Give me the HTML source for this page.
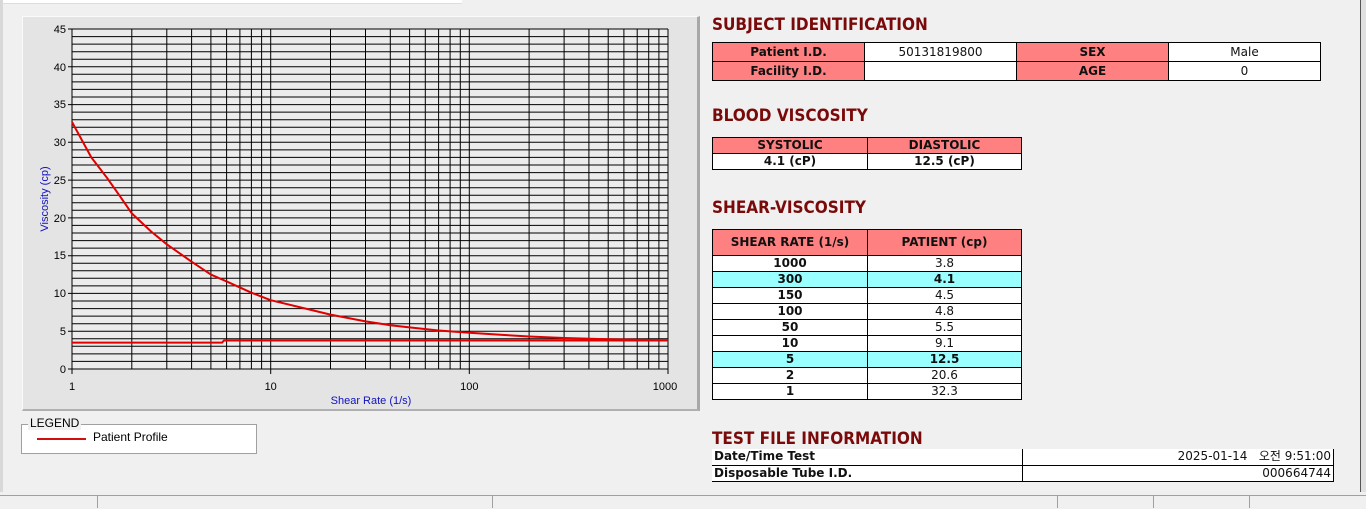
<!DOCTYPE html>
<html><head><meta charset="utf-8"><style>
body{margin:0;width:1366px;height:508px;background:#f0f0f0;position:relative;overflow:hidden;font-family:"Liberation Sans","Noto Sans CJK KR",sans-serif}
.abs{position:absolute}
.t{position:absolute;left:712px;font:bold 17px "DejaVu Sans Condensed","Liberation Sans",sans-serif;color:#7a0a0a}
table{position:absolute;border-collapse:collapse;font:bold 12px "DejaVu Sans","Liberation Sans",sans-serif;color:#111}
td{border:1px solid #000;padding:0;text-align:center;height:15px;line-height:13px;overflow:hidden}
tr{height:16px}
.h{background:#ff8080}
.w{background:#fff}
.c{background:#99ffff}
.n{font-weight:normal}
</style></head><body>
<div class="abs" style="left:0;top:0;width:462px;height:3px;background:#fff;border-bottom:1px solid #ddd"></div>
<div class="abs" style="left:0;top:0;width:3px;height:492px;background:#d8d8d8"></div>
<div class="abs" style="left:22px;top:16px;width:674px;height:392px;background:#e4e4e4;border-right:3px solid #a8a8a8;border-bottom:2px solid #b0b0b0;border-top:1px solid #fafafa;border-left:1px solid #fafafa"></div>
<svg class="abs" style="left:0;top:0" width="700" height="410">
<rect x="72" y="29" width="596" height="340" fill="#ececec"/>
<path stroke="#000" stroke-width="1" fill="none" d="M72 29H668M72 36.6H668M72 44.1H668M72 51.7H668M72 59.2H668M72 66.8H668M72 74.3H668M72 81.9H668M72 89.4H668M72 97H668M72 104.6H668M72 112.1H668M72 119.7H668M72 127.2H668M72 134.8H668M72 142.3H668M72 149.9H668M72 157.4H668M72 165H668M72 172.6H668M72 180.1H668M72 187.7H668M72 195.2H668M72 202.8H668M72 210.3H668M72 217.9H668M72 225.4H668M72 233H668M72 240.6H668M72 248.1H668M72 255.7H668M72 263.2H668M72 270.8H668M72 278.3H668M72 285.9H668M72 293.4H668M72 301H668M72 308.6H668M72 316.1H668M72 323.7H668M72 331.2H668M72 338.8H668M72 346.3H668M72 353.9H668M72 361.4H668M72 369H668
M72 29V369M131.8 29V369M166.8 29V369M191.6 29V369M210.9 29V369M226.6 29V369M239.9 29V369M251.4 29V369M261.6 29V369M270.7 29V369M330.5 29V369M365.5 29V369M390.3 29V369M409.6 29V369M425.3 29V369M438.6 29V369M450.1 29V369M460.3 29V369M469.3 29V369M529.1 29V369M564.1 29V369M588.9 29V369M608.2 29V369M623.9 29V369M637.2 29V369M648.7 29V369M658.9 29V369M668 29V369
M68 29H72M68 66.8H72M68 104.6H72M68 142.3H72M68 180.1H72M68 217.9H72M68 255.7H72M68 293.4H72M68 331.2H72M68 369H72M72 369V374M270.7 369V374M469.3 369V374M668 369V374"/>
<polyline fill="none" stroke="#e00000" stroke-width="2" stroke-linejoin="round" points="72,122 91.3,157.4 107,177.8 120.3,196.7 131.8,213.4 151.1,231.5 166.8,244.3 191.6,261.7 210.9,274.6 226.6,281.4 251.4,292.7 270.7,300.2 305.7,308.6 330.5,314.6 365.5,321.4 390.3,325.2 409.5,327.4 438.6,330.5 469.3,332.7 504.3,335 529.2,336.5 564.1,338 608.2,339.2 668,340.3"/>
<polyline fill="none" stroke="#e00000" stroke-width="2" points="72,342.6 222,342.6 224,340.5 668,340.5"/>
<g font-family="Liberation Sans,sans-serif" font-size="11" fill="#000" text-anchor="end">
<text x="66" y="33">45</text><text x="66" y="71">40</text><text x="66" y="108">35</text><text x="66" y="146">30</text><text x="66" y="184">25</text><text x="66" y="222">20</text><text x="66" y="259">15</text><text x="66" y="297">10</text><text x="66" y="335">5</text><text x="66" y="373">0</text>
</g>
<g font-family="Liberation Sans,sans-serif" font-size="11" fill="#000" text-anchor="middle">
<text x="72" y="390">1</text><text x="270.7" y="390">10</text><text x="469.3" y="390">100</text><text x="665" y="390">1000</text>
</g>
<text x="371" y="404" font-family="Liberation Sans,sans-serif" font-size="11" fill="#1010c0" text-anchor="middle">Shear Rate (1/s)</text>
<text transform="translate(48,199) rotate(-90)" font-family="Liberation Sans,sans-serif" font-size="11" fill="#1010c0" text-anchor="middle">Viscosity (cp)</text>
</svg>
<div class="abs" style="left:21px;top:424px;width:234px;height:28px;background:#fff;border:1px solid #a0a0a0"></div>
<div class="abs" style="left:28px;top:416px;background:#f0f0f0;font-size:12px;padding:0 2px">LEGEND</div>
<div class="abs" style="left:37px;top:438px;width:49px;height:2px;background:#d01010"></div>
<div class="abs" style="left:93px;top:430px;font-size:12px">Patient Profile</div>

<div class="t" style="top:15px">SUBJECT IDENTIFICATION</div>
<table style="left:712px;top:42px;width:609px">
<tr style="height:19px"><td class="h" style="width:151px;height:18px">Patient I.D.</td><td class="w n" style="width:151px">50131819800</td><td class="h" style="width:151px">SEX</td><td class="w n">Male</td></tr>
<tr style="height:19px"><td class="h" style="height:18px">Facility I.D.</td><td class="w"></td><td class="h">AGE</td><td class="w n">0</td></tr>
</table>
<div class="t" style="top:106px">BLOOD VISCOSITY</div>
<table style="left:712px;top:137px;width:310px">
<tr><td class="h" style="width:154px">SYSTOLIC</td><td class="h">DIASTOLIC</td></tr>
<tr><td class="w">4.1 (cP)</td><td class="w">12.5 (cP)</td></tr>
</table>
<div class="t" style="top:198px">SHEAR-VISCOSITY</div>
<table style="left:712px;top:229px;width:310px">
<tr style="height:26px"><td class="h" style="width:154px;height:25px">SHEAR RATE (1/s)</td><td class="h">PATIENT (cp)</td></tr>
<tr><td class="w">1000</td><td class="w n">3.8</td></tr>
<tr><td class="c">300</td><td class="c">4.1</td></tr>
<tr><td class="w">150</td><td class="w n">4.5</td></tr>
<tr><td class="w">100</td><td class="w n">4.8</td></tr>
<tr><td class="w">50</td><td class="w n">5.5</td></tr>
<tr><td class="w">10</td><td class="w n">9.1</td></tr>
<tr><td class="c">5</td><td class="c">12.5</td></tr>
<tr><td class="w">2</td><td class="w n">20.6</td></tr>
<tr><td class="w">1</td><td class="w n">32.3</td></tr>
</table>
<div class="t" style="top:429px">TEST FILE INFORMATION</div>
<table style="left:712px;top:449px;width:622px">
<tr><td class="w" style="width:308px;text-align:left;padding-left:2px;border-left:0;border-top:0">Date/Time Test</td><td class="w n" style="text-align:right;padding-right:2px;border-top:0">2025-01-14 &nbsp; 오전 9:51:00</td></tr>
<tr><td class="w" style="text-align:left;padding-left:2px;border-left:0">Disposable Tube I.D.</td><td class="w n" style="text-align:right;padding-right:2px">000664744</td></tr>
</table>
<div class="abs" style="left:1360px;top:0;width:6px;height:492px;background:#e0e0e0;border-left:1px solid #555"></div>
<div class="abs" style="left:0;top:495px;width:1366px;height:13px;background:#f0f0f0;border-top:1px solid #a0a0a0"></div>
<div class="abs" style="left:97px;top:496px;width:1px;height:12px;background:#a0a0a0"></div>
<div class="abs" style="left:492px;top:496px;width:1px;height:12px;background:#a0a0a0"></div>
<div class="abs" style="left:1057px;top:496px;width:1px;height:12px;background:#a0a0a0"></div>
<div class="abs" style="left:1153px;top:496px;width:1px;height:12px;background:#a0a0a0"></div>
<div class="abs" style="left:1249px;top:496px;width:1px;height:12px;background:#a0a0a0"></div>
</body></html>
